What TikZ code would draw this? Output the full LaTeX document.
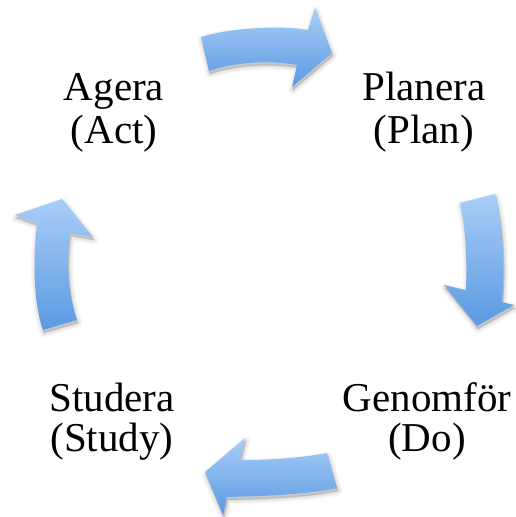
\documentclass[tikz,border=0pt]{standalone}
\usepackage{fontspec}
\setmainfont{Liberation Serif}
\definecolor{arrtop}{HTML}{A9CDF7}
\definecolor{arrbot}{HTML}{5A9AE2}
\tikzset{
  arrowfill/.style={top color=arrtop, bottom color=arrbot, draw=none},
  shadowlayer/.style={fill=black, draw=black, opacity=0.03, line join=round},
  lbl/.style={font=\fontsize{41}{44}\selectfont, anchor=base, inner sep=0pt}
}
\def\arrowTop{(201,37) .. controls (230,28) and (280,25) .. (308,30) -- (315,8) -- (332,53) -- (292,87) -- (297,65) .. controls (270,60) and (235,62) .. (209,71) -- cycle}
\def\arrowRight{(460,203) -- (495,194) .. controls (503,225) and (505,265) .. (502,302) -- (514,305) -- (477,326) -- (444,285) -- (466,290) .. controls (467,260) and (466,230) .. (460,203) -- cycle}
\def\arrowBottom{(327,453) -- (337,488) .. controls (310,494) and (270,496) .. (227,497) -- (223,515) -- (205,472) -- (245,438) -- (240,460) .. controls (270,460) and (300,458) .. (327,453) -- cycle}
\def\arrowLeft{(43,330) .. controls (33,300) and (33,260) .. (37,223) -- (15,215) -- (62,199) -- (93,237) -- (70,233) .. controls (66,260) and (68,295) .. (77,320) -- cycle}
\newcommand{\shadowof}[1]{%
  \foreach \w in {9,6,4,2,0.5}{\path[shadowlayer, line width=\w pt, xshift=1pt, yshift=-3pt] #1;}%
}
\begin{document}
\begin{tikzpicture}[x=1pt,y=-1pt]
\useasboundingbox (0,0) rectangle (515,517);
\fill[white] (0,0) rectangle (515,517);
% shadows
\shadowof{\arrowTop}
\shadowof{\arrowRight}
\shadowof{\arrowBottom}
\shadowof{\arrowLeft}
% arrows
\shade[arrowfill] \arrowTop;
\shade[arrowfill] \arrowRight;
\shade[arrowfill] \arrowBottom;
\shade[arrowfill] \arrowLeft;
% labels
\node[lbl] (agera) at (114,100) {Agera};
\node[lbl] (act) at (114,143) {(Act)};
\node[lbl] (planera) at (424,100) {Planera};
\node[lbl] (plan) at (424,143) {(Plan)};
\node[lbl] (genomfor) at (427,411) {Genomför};
\node[lbl] (do) at (427,451) {(Do)};
\node[lbl] (studera) at (112,411) {Studera};
\node[lbl] (study) at (112,451) {(Study)};
\end{tikzpicture}
\end{document}
